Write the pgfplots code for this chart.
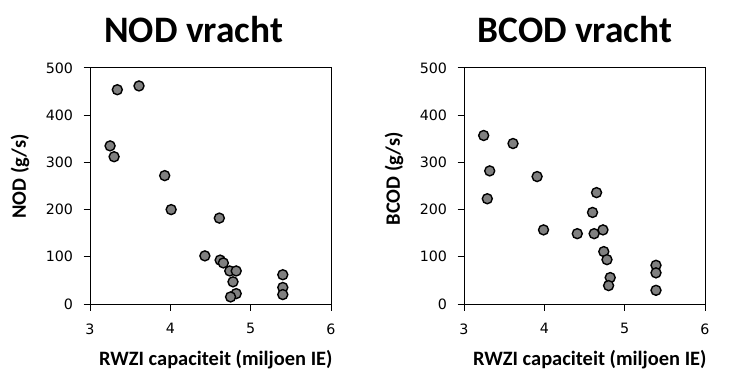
\documentclass[border=0pt]{standalone}
\usepackage{pgfplots}
\pgfplotsset{compat=1.18}
\usepackage{fontspec}
\setmainfont{Carlito}
\newfontfamily\tickfont{DejaVu Sans}
\definecolor{markgray}{RGB}{128,128,128}
\pgfplotsset{
  panel/.style={
    scale only axis, width=241bp, height=236bp,
    xmin=3, xmax=6, ymin=0, ymax=500,
    xtick={3,4,5,6}, ytick={0,100,200,300,400,500},
    tick pos=left, tick align=outside, major tick length=6.5bp,
    axis line style={line width=1bp, black},
    tick style={line width=1bp, black},
    /pgf/number format/assume math mode=true,
    ticklabel style={font=\tickfont\fontsize{14.3}{16}\selectfont, text=black},
    yticklabel style={xshift=-7bp},
    xticklabel style={yshift=-9.5bp},
    label style={font=\bfseries\fontsize{20.5}{22}\selectfont},
    title style={font=\bfseries\fontsize{37.5}{40}\selectfont, anchor=base},
    xlabel style={at={(axis description cs:0.522,-0.2585)}, anchor=base},
    ylabel style={at={(axis description cs:-0.2656,0.54)}, anchor=base},
  },
  pts/.style={only marks, mark=*, mark size=5bp,
    mark options={fill=markgray, draw=black, line width=1.4bp}},
}
\begin{document}
\begin{tikzpicture}
\useasboundingbox (0,0) rectangle (754bp,384bp);
\begin{axis}[panel, at={(90bp,80bp)}, anchor=south west,
  title={NOD vracht}, title style={at={(axis description cs:0.43,1.0847)}},
  xlabel={RWZI capaciteit (miljoen IE)}, ylabel={NOD (g/s)}]
\addplot[pts] table {
x y
3.34 454
3.61 462
3.25 335
3.30 312
3.93 272
4.01 200
4.61 182
4.43 102
4.62 93
4.66 87
4.74 70
4.82 70
4.78 47
4.82 22
4.75 15
5.40 62
5.40 35
5.40 20
};
\end{axis}
\begin{axis}[panel, at={(464bp,80bp)}, anchor=south west,
  title={BCOD vracht}, title style={at={(axis description cs:0.46,1.0847)}},
  xlabel={RWZI capaciteit (miljoen IE)}, ylabel={BCOD (g/s)},
  ylabel style={at={(axis description cs:-0.2656,0.53)}}]
\addplot[pts] table {
x y
3.245 357
3.61 340
3.32 282
3.29 223
3.91 270
3.99 157
4.41 149
4.62 149
4.60 194
4.65 236
4.73 157
4.74 111
4.78 94
4.82 56
4.80 39
5.39 82
5.39 66
5.39 29
};
\end{axis}
\end{tikzpicture}
\end{document}
